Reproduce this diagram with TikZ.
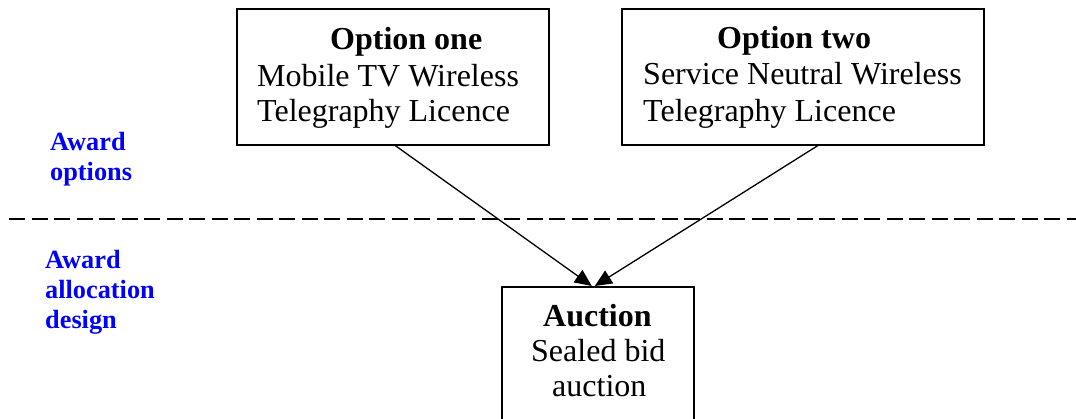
\documentclass[tikz,border=0pt]{standalone}
\usepackage{fontspec}
\setmainfont{Liberation Serif}
\usetikzlibrary{arrows.meta,calc}
\definecolor{lblblue}{RGB}{0,0,255}
\begin{document}
\begin{tikzpicture}[x=1pt,y=-1pt,
  box/.style={draw,line width=1.6pt,inner sep=0pt,anchor=north west},
  txt/.style={anchor=base west,inner sep=0pt,font=\fontsize{32}{36}\selectfont},
  ttl/.style={txt,font=\fontsize{32}{36}\selectfont\bfseries},
  lbl/.style={anchor=base west,inner sep=0pt,text=lblblue,font=\fontsize{26.3}{30}\selectfont\bfseries},
  arr/.style={line width=1.3pt,-{Triangle[length=17pt,width=15pt]}},
  sep/.style={line width=2pt,dash pattern=on 16pt off 6.5pt}]
\useasboundingbox (0,0) rectangle (1076,419);
% boxes
\node[box,minimum width=312pt,minimum height=136pt] (b1) at (236,8) {};
\node[box,minimum width=362pt,minimum height=136pt] (b2) at (621,8) {};
\node[box,minimum width=192pt,minimum height=160pt] (b3) at (501,286) {};
% box texts
\node[ttl] (t1a) at (330,50) {Option one};
\node[txt] (t1b) at (257,87) {Mobile TV Wireless};
\node[txt] (t1c) at (257,122) {Telegraphy Licence};
\node[ttl] (t2a) at (717,49) {Option two};
\node[txt] (t2b) at (643,85) {Service Neutral Wireless};
\node[txt] (t2c) at (643,122) {Telegraphy Licence};
\node[ttl] (t3a) at (543,327) {Auction};
\node[txt] (t3b) at (531,362) {Sealed bid};
\node[txt] (t3c) at (552,396) {auction};
% side labels
\node[lbl] (l1) at (50,151) {Award};
\node[lbl] (l2) at (50,181) {options};
\node[lbl] (l3) at (45,269) {Award};
\node[lbl] (l4) at (45,299) {allocation};
\node[lbl] (l5) at (45,329) {design};
% separator
\coordinate (dl) at (9,219);
\coordinate (dr) at (1080,219);
\draw[sep] (dl) -- (dr);
% connectors
\draw[arr] ([xshift=2.5pt]b1.south) -- ([xshift=-6pt]b3.north);
\draw[arr] ([xshift=15pt]b2.south) -- ([xshift=-3pt]b3.north);
\end{tikzpicture}
\end{document}
